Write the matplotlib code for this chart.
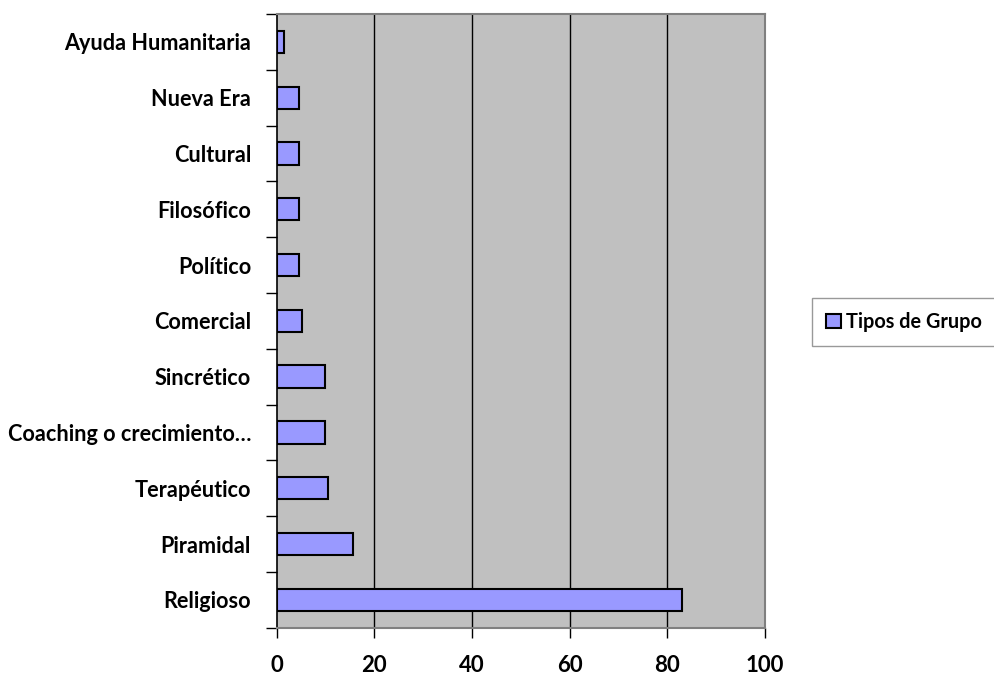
import matplotlib
matplotlib.use('Agg')
import matplotlib.pyplot as plt
from matplotlib.patches import Patch

plt.rcParams['font.family'] = ['Lato', 'DejaVu Sans']
plt.rcParams['font.weight'] = 'bold'

categorias = ['Religioso', 'Piramidal', 'Terapéutico', 'Coaching o crecimiento…',
              'Sincrético', 'Comercial', 'Político', 'Filosófico', 'Cultural',
              'Nueva Era', 'Ayuda Humanitaria']
valores = [83.0, 15.7, 10.4, 9.8, 9.8, 5.2, 4.5, 4.5, 4.5, 4.5, 1.4]
ticks_x = [0, 20, 40, 60, 80, 100]
serie = 'Tipos de Grupo'

fig = plt.figure(figsize=(9.94, 6.8), dpi=100)
ax = fig.add_axes([0.2784, 0.0769, 0.7696 - 0.2784, 0.9794 - 0.0769])
ax.set_facecolor('#C0C0C0')

pos = list(range(len(categorias)))
ax.barh(pos, valores, height=0.4, color='#9999FF', edgecolor='black',
        linewidth=1.5, zorder=3)

ax.set_xlim(0, 100)
ax.set_ylim(-0.5, len(categorias) - 0.5)
ax.set_xticks(ticks_x)
ax.set_xticklabels([str(t) for t in ticks_x], fontsize=16, fontweight='bold')
ax.tick_params(axis='x', length=7, width=1, pad=13, color='black')
for t in ticks_x[1:-1]:
    ax.axvline(t, color='black', linewidth=1, zorder=1)

ax.set_yticks(pos)
ax.set_yticklabels(categorias, fontsize=15.6, fontweight='bold')
ax.set_yticks([p - 0.5 for p in pos] + [len(pos) - 0.5], minor=True)
ax.tick_params(axis='y', which='major', length=0, pad=18.5)
ax.tick_params(axis='y', which='minor', length=8, width=1, color='black')

for lado in ['top', 'right', 'bottom']:
    ax.spines[lado].set_color('#808080')
    ax.spines[lado].set_linewidth(1.5)
ax.spines['left'].set_color('black')
ax.spines['left'].set_linewidth(1.2)

handle = Patch(facecolor='#9999FF', edgecolor='black', linewidth=1.5)
fig.legend([handle], [serie], loc='upper left',
           bbox_to_anchor=(812 / 994, 1 - 298 / 680), frameon=True,
           fancybox=False, edgecolor='#808080',
           handlelength=0.75, handleheight=0.75, handletextpad=0.25,
           borderpad=0.7, borderaxespad=0,
           prop={'weight': 'bold', 'size': 14.3})

fig.savefig('out.png', dpi=100)
